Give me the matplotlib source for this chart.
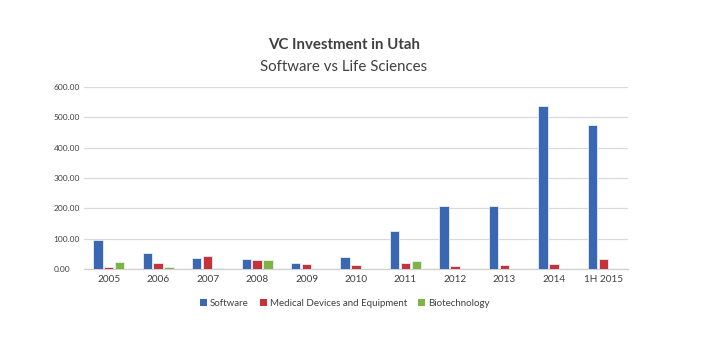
import numpy as np
import matplotlib.pyplot as plt
from matplotlib.patches import Rectangle

plt.rcParams['font.family'] = ['Lato', 'DejaVu Sans']

years = ['2005', '2006', '2007', '2008', '2009', '2010', '2011', '2012', '2013', '2014', '1H 2015']
software = [94, 52.5, 37, 34, 21, 39.5, 124, 207, 209, 536.5, 476]
medical = [5, 18.5, 44, 31, 17.5, 12, 21, 11, 14, 17.5, 33]
biotech = [24, 5.5, 2, 28.5, 0, 0, 27, 0, 0, 0, 0]

series = ['Software', 'Medical Devices and Equipment', 'Biotechnology']
colors = ['#3A67B1', '#C6323A', '#7DB542']

fig = plt.figure(figsize=(7.11, 3.53), dpi=100)
ax = fig.add_axes([84 / 711, 1 - 269 / 353, 544 / 711, 182 / 353])

x = np.arange(len(years))
w = 0.19
for i, (vals, c) in enumerate(zip([software, medical, biotech], colors)):
    ax.bar(x + (i - 1) * 0.22, vals, width=w, color=c, edgecolor='#e8eef8', linewidth=0.6, zorder=3)

ax.set_xlim(-0.5, len(years) - 0.5)
ax.set_ylim(0, 600)
ax.set_yticks(np.arange(0, 601, 100))
ax.set_yticklabels([f'{v:.2f}' for v in np.arange(0, 601, 100)], fontsize=6, color='#404040')
ax.set_xticks(x)
ax.set_xticklabels(years, fontsize=7.2, color='#404040')
ax.tick_params(axis='both', length=0)
ax.tick_params(axis='y', pad=22)
for lab in ax.get_yticklabels():
    lab.set_horizontalalignment('left')
ax.tick_params(axis='x', pad=4)
ax.grid(axis='y', color='#d9d9d9', linewidth=0.9, zorder=0)
for s in ['top', 'right', 'left']:
    ax.spines[s].set_visible(False)
ax.spines['bottom'].set_color('#d0d0d0')
ax.spines['bottom'].set_linewidth(0.9)

fig.text(344 / 711, 1 - 45 / 353, 'VC Investment in Utah', ha='center', va='center', fontsize=10.8, fontweight='bold', color='#404040')
fig.text(344 / 711, 1 - 67 / 353, 'Software vs Life Sciences', ha='center', va='center', fontsize=10.8, color='#404040')

handles = [Rectangle((0, 0), 1, 1, facecolor=c, edgecolor='none') for c in colors]
fig.legend(handles, series, loc='center', bbox_to_anchor=(345 / 711, 1 - 303 / 353), ncol=3, frameon=False,
           fontsize=7, handlelength=0.7, handleheight=0.7, handletextpad=0.3, columnspacing=1.15,
           labelcolor='#404040')

fig.savefig('out.png', dpi=100)
